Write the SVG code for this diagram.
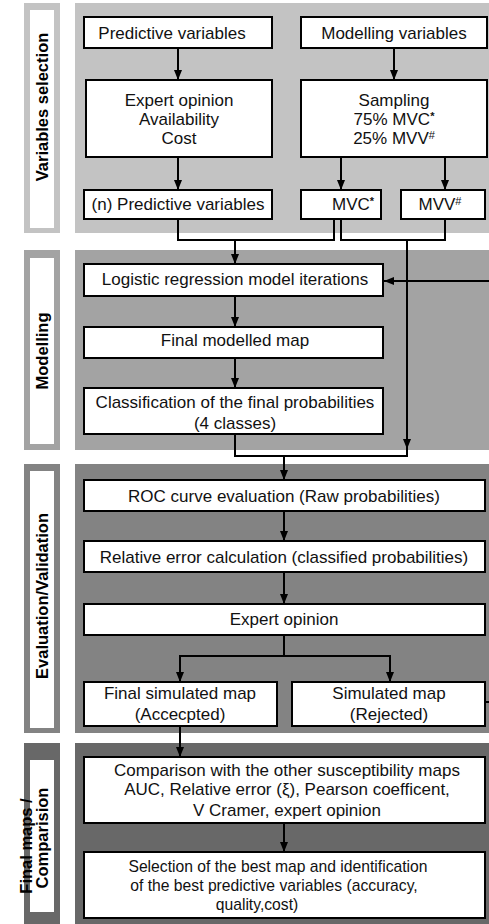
<svg xmlns="http://www.w3.org/2000/svg" width="489" height="924" viewBox="0 0 489 924">
<defs>
<style>
.box{fill:#fff;stroke:#000;stroke-width:2}
.t{font-family:"Liberation Sans",Arial,sans-serif;font-size:17px;fill:#111;text-anchor:middle}
.s{font-size:15.7px}
.lbl{font-family:"Liberation Sans",Arial,sans-serif;font-size:16.5px;font-weight:bold;fill:#000;text-anchor:middle;dominant-baseline:central}
.c{fill:none;stroke:#000;stroke-width:2}
.a{marker-end:url(#ah)}
.sup{font-size:11px}
</style>
<marker id="ah" markerWidth="10" markerHeight="8" refX="10" refY="4" orient="auto" markerUnits="userSpaceOnUse">
<path d="M0,0 L10,4 L0,8 z" fill="#000"/>
</marker>
</defs>
<rect width="489" height="924" fill="#fff"/>

<g id="panels">
<rect x="75" y="3" width="414" height="230" fill="#c3c3c3"/>
<rect x="75" y="250" width="414" height="200" fill="#a3a3a3"/>
<rect x="75" y="464" width="414" height="269" fill="#838383"/>
<rect x="75" y="743" width="414" height="181" fill="#686868"/>
</g>

<g id="lane-variables">
<rect x="24" y="3" width="36" height="230" fill="#c3c3c3"/>
<rect x="30" y="10" width="24" height="218" fill="#fff"/>
<text class="lbl" transform="translate(42,107) rotate(-90)">Variables selection</text>
</g>
<g id="lane-modelling">
<rect x="24" y="250" width="36" height="200" fill="#a3a3a3"/>
<rect x="30" y="258" width="24" height="186" fill="#fff"/>
<text class="lbl" transform="translate(42,351) rotate(-90)">Modelling</text>
</g>
<g id="lane-evaluation">
<rect x="24" y="464" width="36" height="269" fill="#838383"/>
<rect x="30" y="471" width="24" height="257" fill="#fff"/>
<text class="lbl" transform="translate(42,596) rotate(-90)">Evaluation/Validation</text>
</g>
<g id="lane-final">
<rect x="24" y="743" width="36" height="181" fill="#686868"/>
<rect x="30" y="760" width="24" height="152" fill="#fff"/>
<text class="lbl" transform="translate(26,846) rotate(-90)">Final maps /</text>
<text class="lbl" transform="translate(42,838) rotate(-90)">Comparision</text>
</g>

<g id="connectors">
<path class="c a" d="M178,48 V80"/>
<path class="c a" d="M394,48 V80"/>
<path class="c a" d="M178,157 V190"/>
<path class="c a" d="M341,157 V190"/>
<path class="c a" d="M445,157 V190"/>
<path class="c" d="M178,219 V240 H334 V219"/>
<path class="c" d="M341,219 V240 H445 V219"/>
<path class="c a" d="M235,240 V264"/>
<path class="c a" d="M407,240 V449"/>
<path class="c" d="M407,447 V456"/>
<path class="c a" d="M495,281 H384"/>
<path class="c a" d="M235,296 V327"/>
<path class="c a" d="M235,358 V388"/>
<path class="c" d="M235,434 V456 H408"/>
<path class="c a" d="M284,456 V480"/>
<path class="c a" d="M284,511 V541"/>
<path class="c a" d="M284,572 V604"/>
<path class="c" d="M284,635 V656 M179,656 H391"/>
<path class="c a" d="M180,655 V682"/>
<path class="c a" d="M390,655 V682"/>
<path class="c" d="M485,702 H495 V281"/>
<path class="c a" d="M180,726 V757"/>
<path class="c a" d="M284,823 V852"/>
</g>

<g id="n-predictive">
<rect class="box" x="84" y="17" width="188" height="31"/>
<text class="t" x="172" y="39">Predictive variables</text>
</g>
<g id="n-modelling-vars">
<rect class="box" x="301" y="17" width="186" height="31"/>
<text class="t" x="394" y="39">Modelling variables</text>
</g>
<g id="n-expert">
<rect class="box" x="86" y="80" width="186" height="77"/>
<text class="t" x="179" y="106">Expert opinion</text>
<text class="t" x="179" y="125">Availability</text>
<text class="t" x="179" y="144">Cost</text>
</g>
<g id="n-sampling">
<rect class="box" x="301" y="80" width="186" height="77"/>
<text class="t" x="394" y="106">Sampling</text>
<text class="t" x="394" y="125">75% MVC<tspan class="sup" dy="-5" font-weight="bold">*</tspan></text>
<text class="t" x="394" y="144">25% MVV<tspan class="sup" dy="-5">#</tspan></text>
</g>
<g id="n-npredictive">
<rect class="box" x="84" y="190" width="188" height="29"/>
<text class="t" x="178" y="210">(n) Predictive variables</text>
</g>
<g id="n-mvc">
<rect class="box" x="301" y="190" width="80" height="29"/>
<text class="t" x="353" y="210">MVC<tspan class="sup" dy="-5" font-weight="bold">*</tspan></text>
</g>
<g id="n-mvv">
<rect class="box" x="401" y="190" width="84" height="29"/>
<text class="t" x="440" y="210">MVV<tspan class="sup" dy="-5">#</tspan></text>
</g>

<g id="n-logistic">
<rect class="box" x="84" y="264" width="299" height="32"/>
<text class="t" x="235" y="285">Logistic regression model iterations</text>
</g>
<g id="n-finalmodelled">
<rect class="box" x="84" y="327" width="299" height="31"/>
<text class="t" x="235" y="346">Final modelled map</text>
</g>
<g id="n-classification">
<rect class="box" x="84" y="388" width="299" height="46"/>
<text class="t" x="235" y="408">Classification of the final probabilities</text>
<text class="t" x="235" y="429">(4 classes)</text>
</g>

<g id="n-roc">
<rect class="box" x="84" y="480" width="401" height="31"/>
<text class="t" x="284" y="502">ROC curve evaluation (Raw probabilities)</text>
</g>
<g id="n-relerr">
<rect class="box" x="84" y="541" width="401" height="31"/>
<text class="t" x="284" y="563">Relative error calculation (classified probabilities)</text>
</g>
<g id="n-expert2">
<rect class="box" x="84" y="604" width="401" height="31"/>
<text class="t" x="284" y="625">Expert opinion</text>
</g>
<g id="n-accepted">
<rect class="box" x="84" y="682" width="193" height="44"/>
<text class="t" x="180" y="699">Final simulated map</text>
<text class="t" x="180" y="720">(Accecpted)</text>
</g>
<g id="n-rejected">
<rect class="box" x="292" y="682" width="193" height="44"/>
<text class="t" x="389" y="699">Simulated map</text>
<text class="t" x="389" y="720">(Rejected)</text>
</g>

<g id="n-comparison">
<rect class="box" x="84" y="757" width="401" height="66"/>
<text class="t" x="287" y="776">Comparison with the other susceptibility maps</text>
<text class="t" x="287" y="795">AUC, Relative error (ξ), Pearson coefficent,</text>
<text class="t" x="287" y="816">V Cramer, expert opinion</text>
</g>
<g id="n-selection">
<rect class="box" x="84" y="852" width="401" height="66"/>
<text class="t s" x="278" y="872">Selection of the best map and identification</text>
<text class="t s" x="274" y="891">of the best predictive variables (accuracy,</text>
<text class="t s" x="257" y="910">quality,cost)</text>
</g>
</svg>
